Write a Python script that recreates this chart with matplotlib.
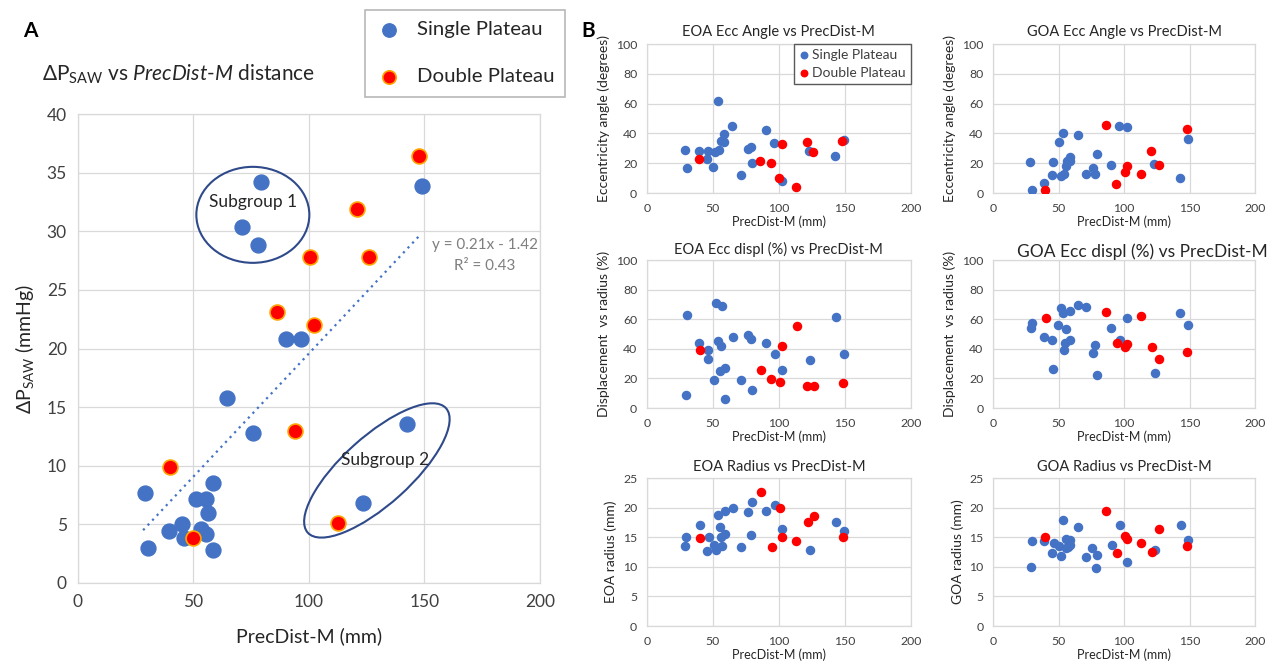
import matplotlib
matplotlib.use("Agg")
import matplotlib.pyplot as plt
from matplotlib.patches import Ellipse
from matplotlib.transforms import ScaledTranslation
import numpy as np

plt.rcParams['font.family'] = ['Lato', 'DejaVu Sans']
plt.rcParams['mathtext.fontset'] = 'custom'
plt.rcParams['mathtext.rm'] = 'Lato'
plt.rcParams['mathtext.it'] = 'Lato:italic'
plt.rcParams['mathtext.bf'] = 'Lato:bold'

BLUE = '#4472C4'
RED = '#FF0000'
GLOW = '#FFA500'
GRID = '#D9D9D9'
TICK = '#404040'
INK = '#262626'
RING = '#2F4A8A'

# --- A: dP_SAW vs PrecDist-M ---
dp_single_x = [79.2, 70.8, 78.1, 148.8, 90.2, 96.6, 64.4, 75.7, 142.5, 123.2, 29.2,
               30.3, 39.4, 44.9, 45.9, 51.3, 55.3, 58.6, 56.1, 53.4, 55.5, 58.6]
dp_single_y = [34.2, 30.4, 28.8, 33.9, 20.8, 20.8, 15.8, 12.8, 13.6, 6.8, 7.7,
               3.0, 4.4, 5.0, 3.8, 7.2, 7.2, 8.5, 6.0, 4.6, 4.2, 2.8]
dp_double_x = [147.7, 120.6, 100.4, 126.0, 86.1, 102.3, 93.9, 39.7, 49.7, 112.7]
dp_double_y = [36.4, 31.9, 27.8, 27.8, 23.1, 22.0, 13.0, 9.9, 3.8, 5.1]
trend_slope = 0.21
trend_intercept = -1.42
trend_r2 = 0.43

# --- B: eccentricity / radius vs PrecDist-M ---
eoa_angle_single_x = [28.9, 30.1, 39.4, 46.2, 45.7, 50.2, 51.9, 53.7, 54.7, 56.2, 58.2, 58.7,
                      64.7, 71.0, 76.5, 78.8, 79.5, 90.3, 96.6, 102.1, 123.0, 142.8, 149.3]
eoa_angle_single_y = [28.7, 16.5, 28.5, 28.1, 22.7, 17.6, 27.4, 61.7, 29.2, 35.0, 34.3, 39.6,
                      45.2, 12.0, 29.6, 30.7, 20.3, 42.5, 33.4, 8.0, 28.3, 24.9, 35.9]
eoa_angle_double_x = [39.4, 85.8, 94.1, 100.4, 102.1, 112.9, 121.0, 126.0, 147.8]
eoa_angle_double_y = [22.7, 21.8, 20.0, 9.8, 33.2, 4.2, 34.3, 27.8, 35.0]

goa_angle_single_x = [28.4, 29.6, 39.2, 45.3, 46.1, 50.1, 51.9, 53.7, 54.4, 55.4, 56.7, 58.5,
                      58.5, 64.6, 70.6, 76.2, 78.0, 79.0, 90.1, 96.5, 102.3, 123.0, 142.8, 148.9]
goa_angle_single_y = [21.0, 2.3, 6.8, 12.1, 21.0, 34.2, 11.2, 40.3, 13.0, 18.2, 21.4, 24.1,
                      21.4, 38.7, 12.5, 17.1, 12.8, 26.0, 18.7, 44.9, 44.0, 19.6, 10.3, 36.4]
goa_angle_double_x = [39.7, 86.3, 94.2, 100.8, 102.3, 112.7, 120.8, 126.3, 147.8]
goa_angle_double_y = [2.3, 45.8, 6.2, 13.9, 18.2, 12.8, 28.5, 19.1, 43.1]

eoa_displ_single_x = [30.1, 29.6, 39.7, 46.6, 45.9, 50.7, 52.0, 56.6, 54.0, 56.1, 55.3, 59.1,
                      59.1, 65.2, 71.1, 76.4, 78.5, 79.5, 90.4, 97.1, 102.7, 123.6, 143.2, 149.6]
eoa_displ_single_y = [62.8, 8.5, 43.9, 39.0, 33.2, 18.9, 71.3, 69.0, 45.4, 41.9, 24.7, 26.9,
                      6.0, 47.9, 19.2, 49.2, 46.8, 12.2, 43.9, 36.5, 25.6, 32.7, 61.2, 36.3]
eoa_displ_double_x = [40.3, 86.6, 94.3, 101.1, 102.7, 113.4, 121.5, 126.6, 148.5]
eoa_displ_double_y = [39.2, 25.8, 19.6, 17.6, 42.1, 55.5, 14.9, 14.9, 17.1]

goa_displ_single_x = [28.6, 29.9, 39.1, 45.3, 46.0, 49.9, 51.7, 53.5, 54.2, 55.2, 56.0, 59.1,
                      59.1, 64.7, 70.8, 76.2, 78.0, 79.0, 90.0, 96.7, 102.6, 123.3, 142.5, 148.8]
goa_displ_single_y = [54.4, 57.4, 47.9, 46.3, 26.6, 56.0, 67.4, 64.1, 39.4, 44.0, 53.2, 65.3,
                      46.1, 69.7, 68.1, 37.0, 42.8, 22.0, 54.4, 46.1, 60.6, 23.8, 64.1, 56.0]
goa_displ_double_x = [40.2, 86.4, 94.4, 101.0, 102.6, 113.0, 121.2, 126.3, 148.1]
goa_displ_double_y = [60.6, 64.6, 44.2, 41.0, 43.5, 62.0, 41.2, 33.1, 37.7]

eoa_radius_single_x = [29.9, 29.2, 39.9, 46.8, 45.8, 50.6, 52.2, 53.7, 55.2, 56.3, 56.8, 59.1,
                       58.8, 65.0, 71.6, 76.2, 79.5, 78.8, 90.5, 96.9, 102.6, 123.5, 143.0, 149.4]
eoa_radius_single_y = [15.1, 13.5, 17.1, 15.0, 12.6, 13.7, 12.8, 18.8, 16.8, 15.0, 13.6, 15.5,
                       19.4, 19.9, 13.4, 19.3, 21.0, 15.3, 19.5, 20.5, 16.4, 12.8, 17.6, 16.1]
eoa_radius_double_x = [40.2, 86.7, 94.6, 101.0, 102.6, 113.3, 121.7, 126.9, 148.3]
eoa_radius_double_y = [14.9, 22.6, 13.3, 19.9, 15.0, 14.3, 17.6, 18.6, 15.1]

goa_radius_single_x = [29.7, 29.0, 39.2, 46.2, 45.1, 50.0, 51.8, 53.6, 55.4, 55.4, 58.7, 58.7,
                       57.2, 64.6, 71.0, 75.9, 79.5, 78.2, 90.5, 96.7, 102.6, 123.8, 143.1, 149.0]
goa_radius_single_y = [14.4, 9.9, 14.3, 14.1, 12.4, 13.5, 11.9, 17.9, 14.7, 13.1, 14.6, 13.7,
                       13.4, 16.7, 11.7, 13.1, 12.0, 9.8, 13.7, 17.0, 10.8, 12.9, 17.0, 14.6]
goa_radius_double_x = [39.7, 86.4, 94.4, 100.8, 102.6, 113.1, 121.3, 126.4, 148.2]
goa_radius_double_y = [15.0, 19.4, 12.4, 15.2, 14.7, 14.0, 12.5, 16.4, 13.6]

fig = plt.figure(figsize=(12.72, 6.64), dpi=100)


def style_axes(ax, tick_size, pad):
    ax.set_axisbelow(True)
    ax.grid(True, color=GRID, linewidth=0.9)
    for sp in ax.spines.values():
        sp.set_color(GRID)
        sp.set_linewidth(0.9)
    ax.tick_params(length=0, labelsize=tick_size, colors=TICK, pad=pad)


# ---------------- panel A ----------------
axA = fig.add_axes([0.0613, 0.1220, 0.3632, 0.7063])
style_axes(axA, 12.5, 8)
axA.set_xlim(0, 200)
axA.set_ylim(0, 40)
axA.set_xticks(np.arange(0, 201, 50))
axA.set_yticks(np.arange(0, 41, 5))

all_x = dp_single_x + dp_double_x
tx = np.array([min(all_x) - 1, max(all_x) - 1])
axA.plot(tx, trend_slope * tx + trend_intercept, linestyle=(0, (1, 2)),
         color=BLUE, linewidth=1.6, zorder=2)
sA = axA.scatter(dp_single_x, dp_single_y, s=115, color=BLUE, zorder=3,
                 label='Single Plateau')
dA = axA.scatter(dp_double_x, dp_double_y, s=115, color=RED, edgecolor=GLOW,
                 linewidth=1.2, zorder=4, label='Double Plateau')

axA.text(176, 28.8, 'y = %.2fx - %.2f' % (trend_slope, -trend_intercept),
         ha='center', va='center', fontsize=11, color='#7F7F7F')
axA.text(176, 27.0, 'R² = %.2f' % trend_r2, ha='center', va='center',
         fontsize=11, color='#7F7F7F')

# subgroup rings, sized in inches so they keep their shape
for cx, cy, w, h, ang, lab, ly in [(75.7, 31.4, 1.13, 0.96, 0, 'Subgroup 1', 32.5),
                                   (129.4, 9.6, 1.86, 0.68, 42, 'Subgroup 2', 10.5)]:
    ring = Ellipse((0, 0), w, h, angle=ang, fill=False, edgecolor=RING, linewidth=1.5,
                   transform=fig.dpi_scale_trans + ScaledTranslation(cx, cy, axA.transData),
                   zorder=5)
    axA.add_patch(ring)
    axA.text(cx + (3.5 if ang else 0), ly, lab, ha='center', va='center',
             fontsize=12.5, color=INK, zorder=6)

axA.set_xlabel('PrecDist-M (mm)', fontsize=14, color=INK, labelpad=12)
axA.set_ylabel('ΔP$_{\\mathrm{SAW}}$ (mmHg)', fontsize=14, color=INK, labelpad=8)

fig.text(0.033, 0.888, 'ΔP$_{\\mathrm{SAW}}$ vs $\\mathit{PrecDist}$-$\\mathit{M}$ distance',
         fontsize=15, color=INK, ha='left', va='center')
fig.text(0.018, 0.953, 'A', fontsize=15, fontweight='bold', ha='left', va='center')
fig.text(0.457, 0.953, 'B', fontsize=15, fontweight='bold', ha='left', va='center')

legA = fig.legend(handles=[sA, dA], loc='upper left', bbox_to_anchor=(0.2866, 0.985),
                  bbox_transform=fig.transFigure, fontsize=14.7, frameon=True,
                  fancybox=False, edgecolor='#A6A6A6', labelspacing=1.45,
                  handlelength=1.25, handletextpad=0.75, borderpad=0.55,
                  borderaxespad=0, markerscale=0.9)
legA.get_frame().set_linewidth(1.2)
for t in legA.get_texts():
    t.set_color(INK)


# ---------------- panel B ----------------
def small_panel(rect, title, ylabel, ymax, ystep, single, double,
                title_size=10.5, title_x=0.5, title_pad=5, legend=False):
    ax = fig.add_axes(rect)
    style_axes(ax, 8.8, 7)
    ax.set_xlim(0, 200)
    ax.set_ylim(0, ymax)
    ax.set_xticks(np.arange(0, 201, 50))
    ax.set_yticks(np.arange(0, ymax + 0.1, ystep))
    ax.scatter(single[0], single[1], s=34, color=BLUE, zorder=3, label='Single Plateau')
    ax.scatter(double[0], double[1], s=34, color=RED, zorder=4, label='Double Plateau')
    ax.set_title(title, fontsize=title_size, color=INK, x=title_x, pad=title_pad)
    ax.set_xlabel('PrecDist-M (mm)', fontsize=9, color=INK, labelpad=1)
    ax.set_ylabel(ylabel, fontsize=10, color=INK, labelpad=4)
    if legend:
        lg = ax.legend(loc='upper right', bbox_to_anchor=(1.0, 1.0), borderaxespad=0,
                       fontsize=10, fancybox=False, edgecolor='#595959',
                       handlelength=0.75, handletextpad=0.25, labelspacing=0.42,
                       borderpad=0.35, markerscale=0.8, framealpha=1)
        lg.get_frame().set_linewidth(1.0)
        for t in lg.get_texts():
            t.set_color(TICK)
    return ax


col1 = (0.5086, 0.2075)
col2 = (0.7807, 0.2060)
row1 = (0.7093, 0.2244)
row2 = (0.3855, 0.2229)
row3 = (0.0572, 0.2229)

small_panel([col1[0], row1[0], col1[1], row1[1]], 'EOA Ecc Angle vs PrecDist-M',
            'Eccentricity angle (degrees)', 100, 20,
            (eoa_angle_single_x, eoa_angle_single_y),
            (eoa_angle_double_x, eoa_angle_double_y), title_pad=6, legend=True)
small_panel([col2[0], row1[0], col2[1], row1[1]], 'GOA Ecc Angle vs PrecDist-M',
            'Eccentricity angle (degrees)', 100, 20,
            (goa_angle_single_x, goa_angle_single_y),
            (goa_angle_double_x, goa_angle_double_y), title_pad=6)
small_panel([col1[0], row2[0], col1[1], row2[1]], 'EOA Ecc displ (%) vs PrecDist-M',
            'Displacement  vs radius (%)', 100, 20,
            (eoa_displ_single_x, eoa_displ_single_y),
            (eoa_displ_double_x, eoa_displ_double_y), title_pad=4)
small_panel([col2[0], row2[0], col2[1], row2[1]], 'GOA Ecc displ (%) vs PrecDist-M',
            'Displacement  vs radius (%)', 100, 20,
            (goa_displ_single_x, goa_displ_single_y),
            (goa_displ_double_x, goa_displ_double_y), title_size=12.5, title_x=0.57,
            title_pad=2)
small_panel([col1[0], row3[0], col1[1], row3[1]], 'EOA Radius vs PrecDist-M',
            'EOA radius (mm)', 25, 5,
            (eoa_radius_single_x, eoa_radius_single_y),
            (eoa_radius_double_x, eoa_radius_double_y), title_pad=5)
small_panel([col2[0], row3[0], col2[1], row3[1]], 'GOA Radius vs PrecDist-M',
            'GOA radius (mm)', 25, 5,
            (goa_radius_single_x, goa_radius_single_y),
            (goa_radius_double_x, goa_radius_double_y), title_pad=5)

fig.savefig('out.png', dpi=100, facecolor='white')
